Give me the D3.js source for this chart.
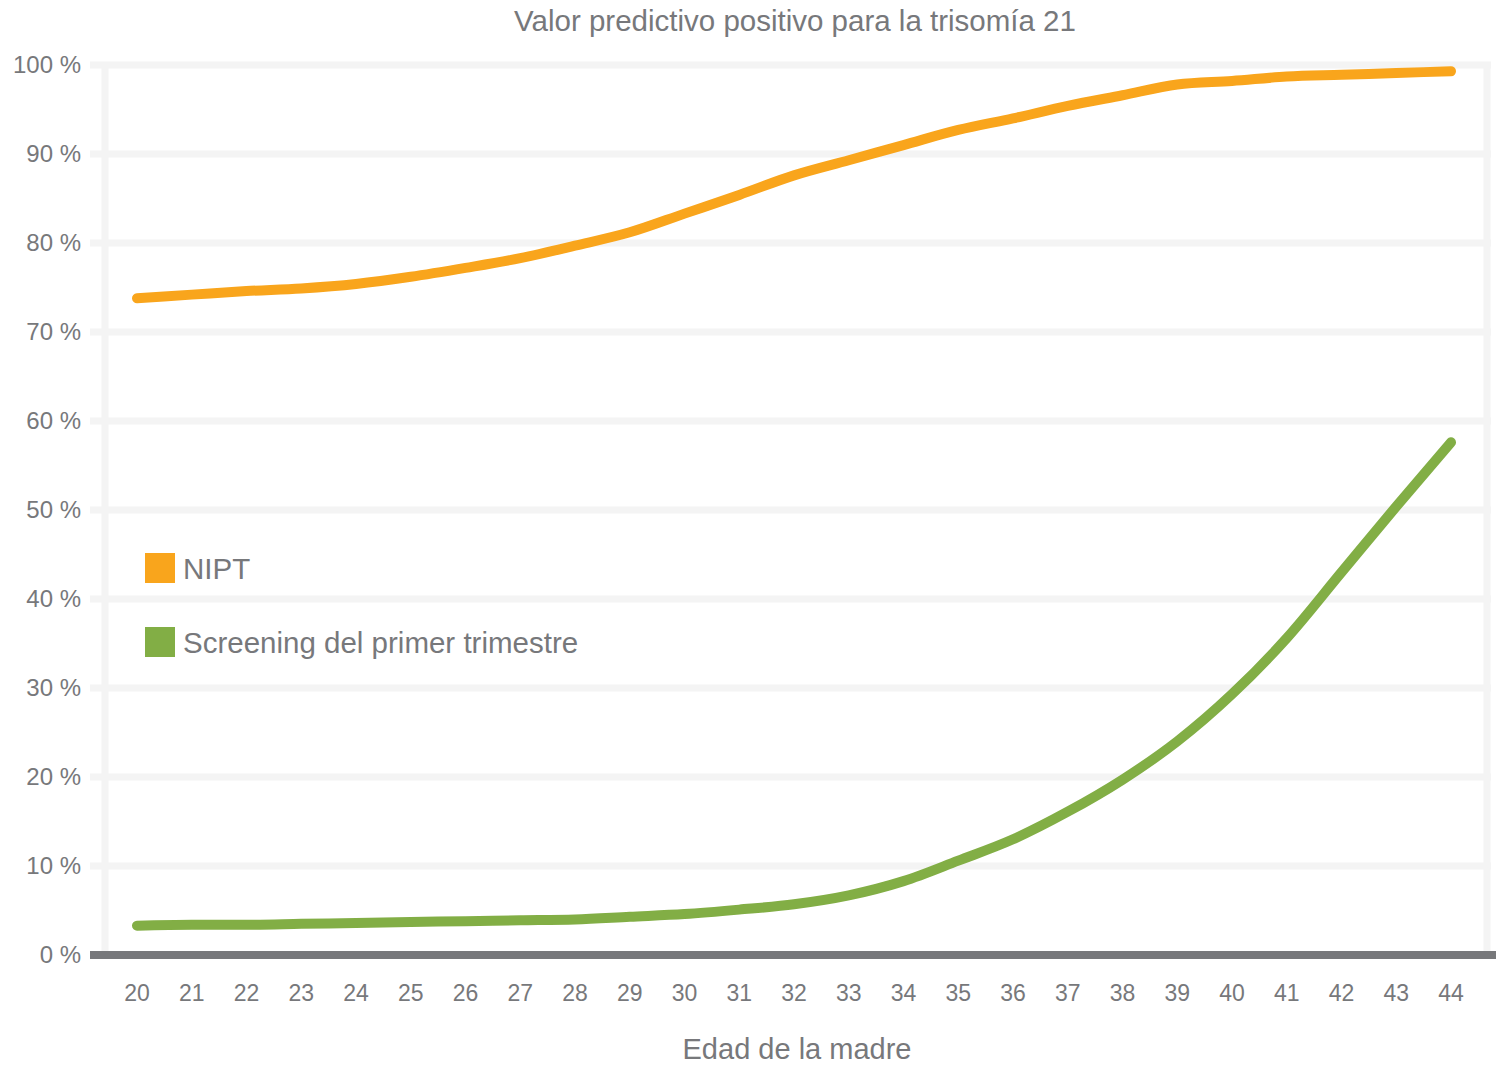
<!DOCTYPE html>
<html lang="es">
<head>
<meta charset="utf-8">
<title>Valor predictivo positivo para la trisomía 21</title>
<script src="https://d3js.org/d3.v7.min.js"></script>
<style>
  body { margin: 0; background: #fff; font-family: 'Liberation Sans', Arial, sans-serif; }
  .grid line { stroke: #f4f4f4; stroke-width: 7px; }
  .tick-label { fill: #77787b; font-size: 23px; }
  .ylab { font-size: 24px; }
  .line { fill: none; stroke-width: 10px; stroke-linecap: round; stroke-linejoin: round; }
</style>
</head>
<body>
<svg id="chart" width="1496" height="1065"></svg>
<script>
// edad de la madre
var ages = [20, 21, 22, 23, 24, 25, 26, 27, 28, 29, 30, 31, 32, 33, 34, 35, 36, 37, 38, 39, 40, 41, 42, 43, 44];

// valor predictivo positivo (%)
var nipt = [73.8, 74.2, 74.6, 74.9, 75.4, 76.2, 77.2, 78.3, 79.7, 81.2, 83.3, 85.4, 87.6, 89.3, 91.0,
            92.7, 94.0, 95.4, 96.6, 97.8, 98.2, 98.7, 98.9, 99.1, 99.3];
var screening = [3.3, 3.4, 3.4, 3.5, 3.6, 3.7, 3.8, 3.9, 4.0, 4.3, 4.6, 5.1, 5.7, 6.7, 8.3,
                 10.6, 13.0, 16.1, 19.7, 24.0, 29.3, 35.6, 43.0, 50.4, 57.6];

var yTicks = [0, 10, 20, 30, 40, 50, 60, 70, 80, 90, 100];
var series = [
  { name: "NIPT", values: nipt, color: "#f9a51c" },
  { name: "Screening del primer trimestre", values: screening, color: "#82ae45" }
];

var svg = d3.select("#chart");

var x = d3.scaleLinear().domain([20, 44]).range([137, 1451]);
var y = d3.scaleLinear().domain([0, 100]).range([955, 65]);

// cuadricula
var grid = svg.append("g").attr("class", "grid");
grid.selectAll(".h").data(yTicks.slice(1)).enter().append("line")
    .attr("x1", 90).attr("x2", 1491)
    .attr("y1", function(d) { return y(d); })
    .attr("y2", function(d) { return y(d); });
grid.selectAll(".v").data([105, 1487]).enter().append("line")
    .attr("x1", function(d) { return d; })
    .attr("x2", function(d) { return d; })
    .attr("y1", y(100) - 3).attr("y2", y(0));

// eje x
svg.append("line")
    .attr("x1", 90).attr("x2", 1496)
    .attr("y1", y(0)).attr("y2", y(0))
    .attr("stroke", "#77787b").attr("stroke-width", 8);

svg.selectAll(".ylab").data(yTicks).enter().append("text")
    .attr("class", "tick-label ylab")
    .attr("x", 81)
    .attr("y", function(d) { return y(d) + 8; })
    .attr("text-anchor", "end")
    .text(function(d) { return d + " %"; });

svg.selectAll(".xlab").data(ages).enter().append("text")
    .attr("class", "tick-label")
    .attr("x", function(d) { return x(d); })
    .attr("y", 1001)
    .attr("text-anchor", "middle")
    .text(function(d) { return d; });

// lineas
var line = d3.line()
    .x(function(d, i) { return x(ages[i]); })
    .y(function(d) { return y(d); })
    .curve(d3.curveMonotoneX);

svg.selectAll(".line").data(series).enter().append("path")
    .attr("class", "line")
    .attr("stroke", function(d) { return d.color; })
    .attr("d", function(d) { return line(d.values); });

// leyenda
var legend = svg.selectAll(".legend").data(series).enter().append("g")
    .attr("transform", function(d, i) { return "translate(145," + (553 + i * 74) + ")"; });
legend.append("rect").attr("width", 30).attr("height", 30)
    .attr("fill", function(d) { return d.color; });
legend.append("text")
    .attr("x", 38).attr("y", 26)
    .attr("fill", "#77787b").style("font-size", "29.5px")
    .text(function(d) { return d.name; });

// titulos
svg.append("text")
    .attr("x", 795).attr("y", 31)
    .attr("text-anchor", "middle")
    .attr("fill", "#77787b").style("font-size", "29.5px")
    .text("Valor predictivo positivo para la trisomía 21");

svg.append("text")
    .attr("x", 797).attr("y", 1059)
    .attr("text-anchor", "middle")
    .attr("fill", "#77787b").style("font-size", "29px")
    .text("Edad de la madre");
</script>
</body>
</html>
